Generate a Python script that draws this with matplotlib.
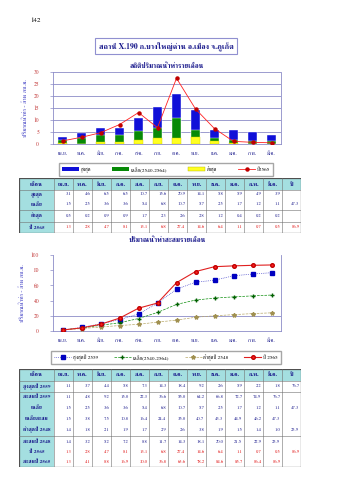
import matplotlib
matplotlib.use("Agg")
import matplotlib.pyplot as plt
from matplotlib.patches import Rectangle
from matplotlib.lines import Line2D
from matplotlib.patches import Patch

plt.rcParams["font.family"] = ["FreeSerif", "DejaVu Serif"]

W, H = 339, 480

months = ["เม.ย.", "พ.ค.", "มิ.ย.", "ก.ค.", "ส.ค.", "ก.ย.", "ต.ค.", "พ.ย.", "ธ.ค.", "ม.ค.", "ก.พ.", "มี.ค."]

# monthly flow, million m3
max_flow = [3.1, 4.6, 6.5, 6.5, 10.7, 15.6, 20.9, 14.1, 5.8, 5.9, 4.9, 3.9]
avg_flow = [1.5, 2.5, 3.6, 3.6, 5.4, 6.8, 10.7, 5.7, 2.5, 1.7, 1.2, 1.1]
min_flow = [0.5, 0.2, 0.9, 0.9, 1.7, 2.3, 2.6, 2.8, 1.2, 0.4, 0.2, 0.2]
flow_2565 = [1.3, 2.8, 4.7, 8.1, 13.1, 6.8, 27.4, 14.6, 6.4, 1.1, 0.7, 0.5]
avg_year, total_2565 = 47.3, 86.9

# cumulative tables
max_2559 = [1.1, 3.7, 4.4, 5.8, 7.3, 14.3, 18.4, 9.2, 2.6, 5.9, 2.2, 1.8]
cum_2559 = [1.1, 4.8, 9.2, 15.0, 22.3, 36.6, 55.0, 64.2, 66.8, 72.7, 74.9, 76.7]
cum_avg = [1.5, 3.8, 7.5, 10.8, 16.4, 24.4, 35.0, 40.7, 43.3, 44.9, 46.2, 47.3]
min_2548 = [1.4, 1.8, 2.1, 1.9, 1.7, 2.9, 2.6, 3.8, 1.9, 1.5, 1.4, 1.0]
cum_2548 = [1.4, 3.2, 5.2, 7.2, 8.8, 11.7, 14.3, 18.1, 20.0, 21.5, 22.9, 23.9]
cum_2565 = [1.3, 4.1, 8.8, 16.9, 30.0, 36.8, 63.6, 78.2, 84.6, 85.7, 86.4, 86.9]
total_2559, total_2548 = 76.7, 23.9

NAVY = "#1a1a8c"
PURPLE = "#8c8cc8"
RED = "#e01010"
CYAN = "#a4dfe0"


def fax(left, top, right, bottom):
    return [left / W, 1 - bottom / H, (right - left) / W, (bottom - top) / H]


def style_chart(ax, ymax, step):
    x = range(len(months))
    ax.set_xlim(-0.5, len(months) - 0.5)
    ax.set_ylim(0, ymax)
    ax.set_xticks(list(x))
    ax.set_xticklabels(months, fontsize=4, color=NAVY)
    ax.set_yticks(range(0, ymax + 1, step))
    ax.tick_params(axis="y", labelsize=4, labelcolor="#c03030", length=2, color=PURPLE, width=0.5, pad=8)
    ax.tick_params(axis="x", length=0, pad=5)
    ax.spines["top"].set_visible(False)
    for s in ["left", "right", "bottom"]:
        ax.spines[s].set_color(PURPLE)
        ax.spines[s].set_linewidth(0.6)
    ax.set_ylabel("ปริมาณน้ำท่า - ล้าน ลบ.ม.", fontsize=4.5, color="#3030c0", labelpad=4)


fig = plt.figure(figsize=(W / 100, H / 100), dpi=100)

fig.text(30 / W, 1 - 20 / H, "142", fontsize=5, va="center")
fig.text(166 / W, 1 - 46 / H, "สถานี X.190 ก.บางใหญ่ด่าน อ.เมือง จ.ภูเก็ต", fontsize=5.6,
         fontweight="bold", color=NAVY, ha="center", va="center",
         bbox=dict(boxstyle="square,pad=0.45", fc="white", ec="#9090d0", lw=0.8))

# ---- chart 1: monthly bars
ax1 = fig.add_axes(fax(53, 72, 281, 144))
x = list(range(len(months)))
ax1.bar(x, max_flow, width=0.5, color="#1010d8", edgecolor="white", linewidth=0.3, zorder=2)
ax1.bar(x, avg_flow, width=0.5, color="#078a07", edgecolor="white", linewidth=0.3, zorder=3)
ax1.bar(x, min_flow, width=0.5, color="#ffff20", edgecolor="#d0d000", linewidth=0.3, zorder=4)
ax1.plot(x, flow_2565, color="#ff2020", lw=0.6, marker="o", ms=2.2, mfc="#c00000", mec="#c00000", zorder=5)
ax1.grid(axis="y", color=PURPLE, lw=0.6, zorder=0)
style_chart(ax1, 30, 5)
ax1.set_title("สถิติปริมาณน้ำท่ารายเดือน", fontsize=5, fontweight="bold", color=NAVY, pad=3)

h1 = [Patch(fc="#1010d8"), Patch(fc="#078a07"), Patch(fc="#ffff20", ec="#b0b000", lw=0.3),
      Line2D([], [], color="#ff2020", lw=0.6, marker="o", ms=2.2, mfc="#c00000", mec="#c00000")]
fig.legend(h1, ["สูงสุด", "เฉลี่ย(2540-2564)", "ต่ำสุด", "ปี2565"], loc="center",
           bbox_to_anchor=(166 / W, 1 - 169.5 / H), ncol=4, fontsize=3.8, frameon=True,
           fancybox=False, edgecolor="#909090", handlelength=3.2, handleheight=0.6,
           columnspacing=4.0, handletextpad=0.3, borderpad=0.5)

# ---- chart 2: cumulative
ax2 = fig.add_axes(fax(53, 255, 281, 331))
ax2.axhline(20, color=PURPLE, lw=0.6, zorder=0)
ax2.plot(x, cum_2559, color="#2020c0", lw=0.5, ls=":", marker="s", ms=2.2, mfc="#0000c0", mec="#0000c0", zorder=3)
ax2.plot(x, cum_avg, color="#109010", lw=0.5, ls="--", marker="+", ms=2.5, mec="#006000", zorder=3)
ax2.plot(x, cum_2548, color="#b8a868", lw=0.5, ls="--", marker="*", ms=3, mfc="#c8b870", mec="#a09050", zorder=3)
ax2.plot(x, cum_2565, color="#e02020", lw=0.8, marker="o", ms=2.6, mfc="#ff2020", mec="#c00000", zorder=4)
style_chart(ax2, 100, 20)
ax2.set_title("ปริมาณน้ำท่าสะสมรายเดือน", fontsize=5, fontweight="bold", color=NAVY, pad=9)

h2 = [Line2D([], [], color="#2020c0", lw=0.5, ls=":", marker="s", ms=2.2, mfc="#0000c0", mec="#0000c0"),
      Line2D([], [], color="#109010", lw=0.5, ls="--", marker="+", ms=2.5, mec="#006000"),
      Line2D([], [], color="#b8a868", lw=0.5, ls="--", marker="*", ms=3, mfc="#c8b870", mec="#a09050"),
      Line2D([], [], color="#e02020", lw=0.8, marker="o", ms=2.6, mfc="#ff2020", mec="#c00000")]
fig.legend(h2, ["สูงสุดปี 2559", "เฉลี่ย(2540-2564)", "ต่ำสุดปี 2548", "ปี 2565"], loc="center",
           bbox_to_anchor=(166 / W, 1 - 357.5 / H), ncol=4, fontsize=3.8, frameon=True,
           fancybox=False, edgecolor="#909090", handlelength=3.2, columnspacing=3.0,
           handletextpad=0.3, borderpad=0.6)


def draw_table(top, header_h, row_centers, bottom, group_lines, labels, rows, years, red_rows):
    left, first, right = 19, 54, 301
    tax = fig.add_axes(fax(left, top, right, bottom))
    tax.set_xlim(left, right)
    tax.set_ylim(bottom, top)
    tax.axis("off")
    cw = (right - first) / 13
    tax.add_patch(Rectangle((left, top), right - left, header_h, fc=CYAN, ec="none"))
    tax.add_patch(Rectangle((left, top + header_h), first - left, bottom - top - header_h, fc=CYAN, ec="none"))
    cols = ["เดือน"] + months + ["ปี"]
    xs = [left, first] + [first + cw * (i + 1) for i in range(13)]
    for i, c in enumerate(cols):
        tax.text((xs[i] + xs[i + 1]) / 2, top + header_h / 2, c, fontsize=4.2, color=NAVY,
                 ha="center", va="center", fontweight="bold")
    for xv in xs[1:-1]:
        tax.plot([xv, xv], [top, bottom], color="#707070", lw=0.4)
    for yv in [top + header_h] + group_lines:
        tax.plot([left, right], [yv, yv], color="#707070", lw=0.4)
    tax.add_patch(Rectangle((left, top), right - left, bottom - top, fc="none", ec="#505050", lw=0.9))
    tax.plot([right + 0.8, right + 0.8], [top + 1, bottom + 0.8], color="#9a9a9a", lw=0.9)
    tax.plot([left + 1, right + 0.8], [bottom + 0.8, bottom + 0.8], color="#9a9a9a", lw=0.9)
    for r, (lab, vals, yr) in enumerate(zip(labels, rows, years)):
        yc = row_centers[r]
        col = RED if r in red_rows else NAVY
        tax.text((left + first) / 2, yc, lab, fontsize=3.9, color=NAVY, ha="center", va="center",
                 fontweight="bold")
        for i, v in enumerate(vals):
            tax.text(xs[i + 2] - 1.5, yc, f"{v:.1f}", fontsize=3.3, color=col, ha="right", va="center")
        if yr is not None:
            tax.text(xs[14] - 1.5, yc, f"{yr:.1f}", fontsize=3.3, color=col, ha="right", va="center")


draw_table(178, 12, [194.5, 204.5, 216, 227.5], 233, [210, 222],
           ["สูงสุด", "เฉลี่ย", "ต่ำสุด", "ปี 2565"],
           [max_flow, avg_flow, min_flow, flow_2565],
           [None, avg_year, None, total_2565], {3})

draw_table(369, 12, [386.5, 397, 408, 419, 430, 442, 452, 462], 467, [392, 436],
           ["สูงสุดปี 2559", "สะสมปี 2559", "เฉลี่ย", "เฉลี่ยสะสม", "ต่ำสุดปี 2548", "สะสมปี 2548",
            "ปี 2565", "สะสมปี 2565"],
           [max_2559, cum_2559, avg_flow, cum_avg, min_2548, cum_2548, flow_2565, cum_2565],
           [total_2559, None, avg_year, None, total_2548, None, total_2565, None], {6, 7})

fig.savefig("out.png", dpi=100)
